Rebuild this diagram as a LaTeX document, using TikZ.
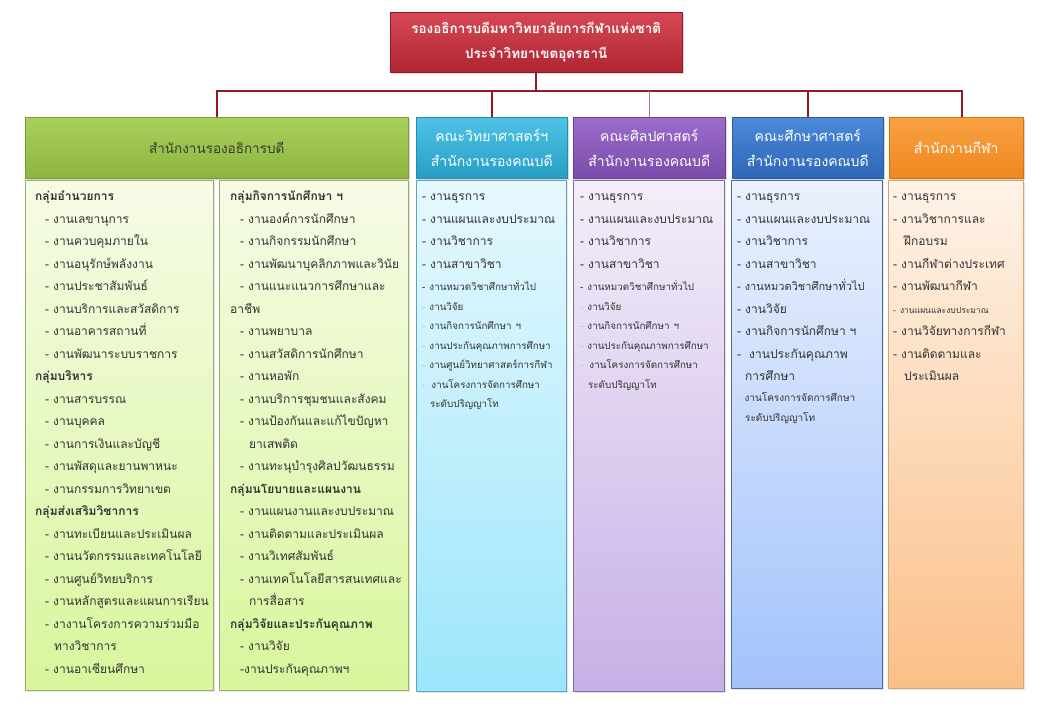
\documentclass[tikz,border=0pt]{standalone}
\usepackage{fontspec}
\newfontfamily\thaifont[Script=Thai]{Loma}
\usetikzlibrary{shadows}

\setlength{\parindent}{0pt}
\setlength{\parskip}{0pt}

\definecolor{linkred}{HTML}{8E1C24}
\definecolor{headtext}{HTML}{3A3A2A}
\definecolor{redline}{HTML}{8E1C28}
\definecolor{redtop}{HTML}{D64856}
\definecolor{redbot}{HTML}{B02533}
\definecolor{greenline}{HTML}{7A9A38}
\definecolor{greentop}{HTML}{AAD05C}
\definecolor{greenbot}{HTML}{8CB540}
\definecolor{greenedge}{HTML}{9AAE6A}
\definecolor{greenlight}{HTML}{F6FBE6}
\definecolor{greendeep}{HTML}{D8F69C}
\definecolor{cyanline}{HTML}{2A8AAA}
\definecolor{cyantop}{HTML}{4EC3E6}
\definecolor{cyanbot}{HTML}{289EC6}
\definecolor{cyanedge}{HTML}{5BA5BE}
\definecolor{cyanlight}{HTML}{E6F8FE}
\definecolor{cyandeep}{HTML}{9CE6FB}
\definecolor{purpleline}{HTML}{6A4290}
\definecolor{purpletop}{HTML}{9C6CCB}
\definecolor{purplebot}{HTML}{7A4CAA}
\definecolor{purpleedge}{HTML}{7E6E98}
\definecolor{purplelight}{HTML}{F4EEF9}
\definecolor{purpledeep}{HTML}{C6B0E6}
\definecolor{blueline}{HTML}{2C5A9A}
\definecolor{bluetop}{HTML}{4C8AD8}
\definecolor{bluebot}{HTML}{2E66B8}
\definecolor{blueedge}{HTML}{4E6A98}
\definecolor{bluelight}{HTML}{EAF1FD}
\definecolor{bluedeep}{HTML}{A3C2FB}
\definecolor{orangeline}{HTML}{D07418}
\definecolor{orangetop}{HTML}{F8A242}
\definecolor{orangebot}{HTML}{F0861E}
\definecolor{orangeedge}{HTML}{D8A470}
\definecolor{orangelight}{HTML}{FEF3E8}
\definecolor{orangedeep}{HTML}{FBBF88}

\newcommand{\topfont}{\thaifont\bfseries\fontsize{13.5}{25}\selectfont}
\newcommand{\headfont}{\thaifont\fontsize{14}{25}\selectfont}
\newcommand{\bodyfont}{\thaifont\fontsize{12}{22.5}\selectfont}
\newcommand{\midfont}{\thaifont\fontsize{11}{22.5}\selectfont}
\newcommand{\smallfirst}{\thaifont\fontsize{9.8}{22.5}\selectfont}
\newcommand{\smallfont}{\thaifont\fontsize{9.8}{19.5}\selectfont}
% list lines
\newcommand{\grp}[1]{\textbf{#1}\par}
\newcommand{\job}[1]{\hspace*{10pt}- #1\par}
\newcommand{\cont}[1]{\hspace*{19pt}#1\par}
\newcommand{\itm}[1]{- #1\par}
\newcommand{\faint}[1]{\textcolor{black!25}{-} #1\par}

\begin{document}
\begin{tikzpicture}[x=1pt, y=-1pt,
link/.style={draw=linkred, line width=2pt},
head/.style={draw=#1line, top color=#1top, bottom color=#1bot,
  line width=0.5pt, inner sep=2pt, align=center,
  anchor=north west, minimum height=61pt, font=\headfont, text=white,
  drop shadow={opacity=0.3, shadow xshift=1.5pt, shadow yshift=-2pt}},
panel/.style={draw=#1edge, top color=#1light, bottom color=#1deep,
  line width=0.6pt, inner sep=0pt, anchor=north west, minimum height=510pt,
  drop shadow={opacity=0.2, shadow xshift=1.5pt, shadow yshift=-2pt}},
list/.style={inner sep=0pt, anchor=north west, text width=#1, align=left,
  font=\bodyfont, text=black!80}]

\useasboundingbox[fill=white] (0,0) rectangle (1040,720);

% top box
\node[head=red, minimum width=292pt, minimum height=60pt, font=\topfont]
  (vp) at (390,12)
  {รองอธิการบดีมหาวิทยาลัยการกีฬาแห่งชาติ\\ประจำวิทยาเขตอุดรธานี};

% headers
\node[head=green, minimum width=383pt, text=headtext,
  font=\thaifont\fontsize{13.5}{25}\selectfont]
  (hOffice) at (25,117) {สำนักงานรองอธิการบดี};
\node[head=cyan, minimum width=151pt]
  (hSci) at (416,117) {คณะวิทยาศาสตร์ฯ\\สำนักงานรองคณบดี};
\node[head=purple, minimum width=152pt]
  (hArts) at (573,117) {คณะศิลปศาสตร์\\สำนักงานรองคณบดี};
\node[head=blue, minimum width=151pt]
  (hEdu) at (732,117) {คณะศึกษาศาสตร์\\สำนักงานรองคณบดี};
\node[head=orange, minimum width=134pt]
  (hSport) at (889,117) {สำนักงานกีฬา};

% connectors
\path (vp.south) ++(0,18) coordinate (bus);
\coordinate (sportTop) at ([xshift=6pt]hSport.north);
\draw[link] (vp.south) -- (bus);
\draw[link] (hOffice.north) |- (bus) -| (sportTop);
\foreach \h in {hSci,hEdu}
  \draw[link] (\h.north) -- (\h.north |- bus);
\draw[link, line width=1pt, draw=linkred!60] (hArts.north) -- (hArts.north |- bus);

% panels
\node[panel=green, minimum width=188pt] (bAdmin) at (25,180) {};
\node[panel=green, minimum width=189pt] (bStudent) at (219,180) {};
\node[panel=cyan, minimum width=150pt, minimum height=511pt] (bSci) at (416,180) {};
\node[panel=purple, minimum width=151pt, minimum height=511pt] (bArts) at (573,180) {};
\node[panel=blue, minimum width=151pt, minimum height=508pt] (bEdu) at (731,180) {};
\node[panel=orange, minimum width=135pt, minimum height=508pt] (bSport) at (888,180) {};

% lists
\node[list=176pt] (tAdmin) at ([shift={(10,5)}]bAdmin.north west) {\strut
\grp{กลุ่มอำนวยการ}
\job{งานเลขานุการ}
\job{งานควบคุมภายใน}
\job{งานอนุรักษ์พลังงาน}
\job{งานประชาสัมพันธ์}
\job{งานบริการและสวัสดิการ}
\job{งานอาคารสถานที่}
\job{งานพัฒนาระบบราชการ}
\grp{กลุ่มบริหาร}
\job{งานสารบรรณ}
\job{งานบุคคล}
\job{งานการเงินและบัญชี}
\job{งานพัสดุและยานพาหนะ}
\job{งานกรรมการวิทยาเขต}
\grp{กลุ่มส่งเสริมวิชาการ}
\job{งานทะเบียนและประเมินผล}
\job{งานนวัตกรรมและเทคโนโลยี}
\job{งานศูนย์วิทยบริการ}
\job{งานหลักสูตรและแผนการเรียน}
\job{งางานโครงการความร่วมมือ}
\cont{ทางวิชาการ}
\job{งานอาเซียนศึกษา}};

\node[list=177pt] (tStudent) at ([shift={(11,5)}]bStudent.north west) {\strut
\grp{กลุ่มกิจการนักศึกษา ฯ}
\job{งานองค์การนักศึกษา}
\job{งานกิจกรรมนักศึกษา}
\job{งานพัฒนาบุคลิกภาพและวินัย}
\job{งานแนะแนวการศึกษาและ}
อาชีพ\par
\job{งานพยาบาล}
\job{งานสวัสดิการนักศึกษา}
\job{งานหอพัก}
\job{งานบริการชุมชนและสังคม}
\job{งานป้องกันและแก้ไขปัญหา}
\cont{ยาเสพติด}
\job{งานทะนุบำรุงศิลปวัฒนธรรม}
\grp{กลุ่มนโยบายและแผนงาน}
\job{งานแผนงานและงบประมาณ}
\job{งานติดตามและประเมินผล}
\job{งานวิเทศสัมพันธ์}
\job{งานเทคโนโลยีสารสนเทศและ}
\cont{การสื่อสาร}
\grp{กลุ่มวิจัยและประกันคุณภาพ}
\job{งานวิจัย}
\hspace*{10pt}-งานประกันคุณภาพฯ\par};

\node[list=142pt] (tSci) at ([shift={(6,5)}]bSci.north west) {\strut
\itm{งานธุรการ}
\itm{งานแผนและงบประมาณ}
\itm{งานวิชาการ}
\itm{งานสาขาวิชา}
\smallfirst
\itm{งานหมวดวิชาศึกษาทั่วไป}
\smallfont
\faint{งานวิจัย}
\faint{งานกิจการนักศึกษา ฯ}
\faint{งานประกันคุณภาพการศึกษา}
\faint{งานศูนย์วิทยาศาสตร์การกีฬา}
\faint{\hspace*{2pt}งานโครงการจัดการศึกษา}
\hspace*{8pt}ระดับปริญญาโท\par};

\node[list=143pt] (tArts) at ([shift={(7,5)}]bArts.north west) {\strut
\itm{งานธุรการ}
\itm{งานแผนและงบประมาณ}
\itm{งานวิชาการ}
\itm{งานสาขาวิชา}
\smallfirst
\itm{งานหมวดวิชาศึกษาทั่วไป}
\smallfont
\faint{งานวิจัย}
\faint{งานกิจการนักศึกษา ฯ}
\faint{งานประกันคุณภาพการศึกษา}
\faint{\hspace*{2pt}งานโครงการจัดการศึกษา}
\hspace*{8pt}ระดับปริญญาโท\par};

\node[list=143pt] (tEdu) at ([shift={(6,5)}]bEdu.north west) {\strut
\itm{งานธุรการ}
\itm{งานแผนและงบประมาณ}
\itm{งานวิชาการ}
\itm{งานสาขาวิชา}
\midfont
\itm{งานหมวดวิชาศึกษาทั่วไป}
\bodyfont
\itm{งานวิจัย}
\itm{งานกิจการนักศึกษา ฯ}
\itm{\hspace*{4pt}งานประกันคุณภาพ}
\hspace*{8pt}การศึกษา\par
\thaifont\fontsize{10}{20.5}\selectfont
\faint{งานโครงการจัดการศึกษา}
\hspace*{8pt}ระดับปริญญาโท\par};

\node[list=128pt] (tSport) at ([shift={(5,5)}]bSport.north west) {\strut
\itm{งานธุรการ}
\itm{งานวิชาการและ}
\hspace*{11pt}ฝึกอบรม\par
\itm{งานกีฬาต่างประเทศ}
\itm{งานพัฒนากีฬา}
{\thaifont\fontsize{8.5}{22.5}\selectfont\itm{งานแผนและงบประมาณ}}
\itm{งานวิจัยทางการกีฬา}
\itm{งานติดตามและ}
\hspace*{11pt}ประเมินผล\par};

\end{tikzpicture}
\end{document}
